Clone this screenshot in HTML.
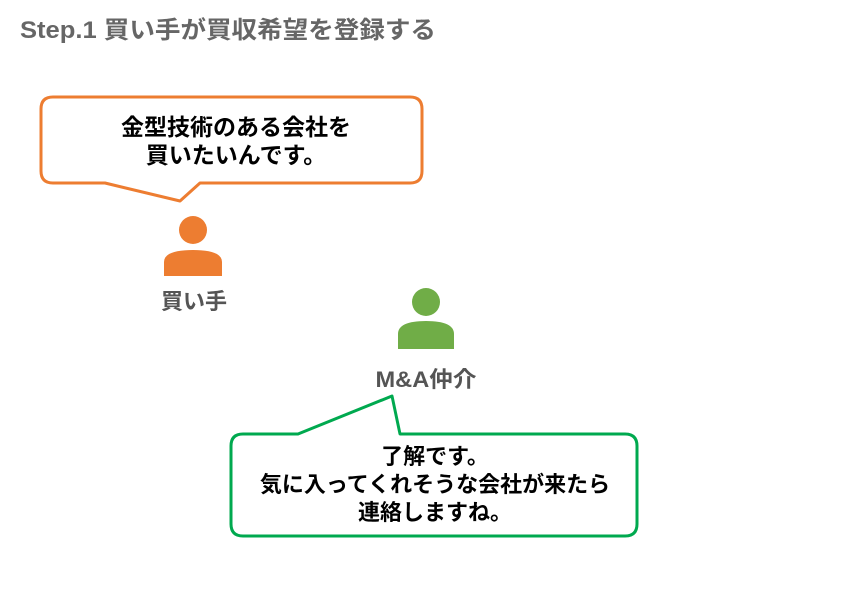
<!DOCTYPE html>
<html><head><meta charset="utf-8"><style>
body{margin:0;background:#fff;width:848px;height:584px;overflow:hidden;font-family:"Liberation Sans","Noto Sans CJK JP",sans-serif}
</style></head><body>
<svg width="848" height="584" viewBox="0 0 848 584" xmlns="http://www.w3.org/2000/svg" style="font-family:'Liberation Sans','Noto Sans CJK JP',sans-serif">
<text x="20" y="38" font-size="24" font-weight="bold" fill="#666" textLength="416" lengthAdjust="spacingAndGlyphs">Step.1 買い手が買収希望を登録する</text>
<path d="M53 97 H410 Q422 97 422 109 V171 Q422 183 410 183 H200 L180 201 L105 183 H53 Q41 183 41 171 V109 Q41 97 53 97 Z" fill="#fff" stroke="#ED7D31" stroke-width="3" stroke-linejoin="round"/>
<text x="236" y="135" font-size="23" font-weight="bold" fill="#000" text-anchor="middle">金型技術のある会社を</text>
<text x="236" y="163" font-size="23" font-weight="bold" fill="#000" text-anchor="middle">買いたいんです。</text>
<circle cx="193" cy="230" r="14" fill="#ED7D31"/>
<path d="M164 276 V262 Q164 250 193 250 Q222 250 222 262 V276 Z" fill="#ED7D31"/>
<text x="194" y="309" font-size="22" font-weight="bold" fill="#555" text-anchor="middle">買い手</text>
<circle cx="426" cy="302" r="14" fill="#70AD47"/>
<path d="M398 349 V334 Q398 321 426 321 Q454 321 454 334 V349 Z" fill="#70AD47"/>
<text x="426" y="387" font-size="22" font-weight="bold" fill="#555" text-anchor="middle" textLength="101" lengthAdjust="spacingAndGlyphs">M&amp;A仲介</text>
<path d="M243 434 H298 L392 396 L400 434 H625 Q637 434 637 446 V524 Q637 536 625 536 H243 Q231 536 231 524 V446 Q231 434 243 434 Z" fill="#fff" stroke="#00A94F" stroke-width="3" stroke-linejoin="round"/>
<text x="435" y="464" font-size="22" font-weight="bold" fill="#000" text-anchor="middle">了解です。</text>
<text x="435" y="492" font-size="22" font-weight="bold" fill="#000" text-anchor="middle">気に入ってくれそうな会社が来たら</text>
<text x="435" y="520" font-size="22" font-weight="bold" fill="#000" text-anchor="middle">連絡しますね。</text>
</svg>
</body></html>
